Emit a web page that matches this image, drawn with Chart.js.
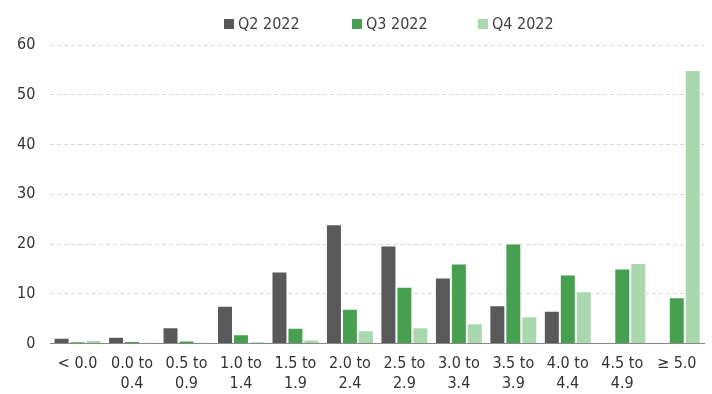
<!DOCTYPE html>
<html><head><meta charset="utf-8">
<script src="https://cdn.jsdelivr.net/npm/chart.js@4"></script>
<style>
html,body{margin:0;padding:0;background:#fff}
#w{position:relative;width:712px;height:394px}
.lg{position:absolute;top:13px;height:20px;display:flex;align-items:center;font-family:'Liberation Sans Narrow','DejaVu Sans Condensed','Liberation Sans',sans-serif;font-size:16px;color:#404040;white-space:nowrap}
.lg i{display:inline-block;width:10px;height:10px;margin-right:4px;margin-top:2px}
</style>
</head><body><div id="w"><canvas id="c"></canvas><div id="legend"></div></div>
<script>
const categories = [["< 0.0"],["0.0 to","0.4"],["0.5 to","0.9"],["1.0 to","1.4"],["1.5 to","1.9"],["2.0 to","2.4"],["2.5 to","2.9"],["3.0 to","3.4"],["3.5 to","3.9"],["4.0 to","4.4"],["4.5 to","4.9"],["≥ 5.0"]];
const seriesNames = ["Q2 2022","Q3 2022","Q4 2022"];
const q2 = [1.2,1.4,3.3,7.6,14.5,24.0,19.7,13.3,7.7,6.6,null,null];
const q3 = [0.4,0.5,0.6,1.9,3.2,7.0,11.4,16.1,20.1,13.9,15.1,9.3];
const q4 = [0.7,0.2,0.2,0.4,0.8,2.7,3.3,4.1,5.5,10.5,16.2,55.0];
const colors = ["#595959","#46a04f","#a9d8ae"];
const yTicks = [0,10,20,30,40,50,60];
const legendLeft = [224, 352, 478];
const FONT = "'Liberation Sans Narrow','DejaVu Sans Condensed','Liberation Sans',sans-serif";

const lg = document.getElementById('legend');
seriesNames.forEach((n,i)=>{
  const d = document.createElement('div');
  d.className = 'lg';
  d.style.left = legendLeft[i] + 'px';
  const sq = document.createElement('i');
  sq.style.background = colors[i];
  d.appendChild(sq);
  d.appendChild(document.createTextNode(n));
  lg.appendChild(d);
});

new Chart(document.getElementById('c'), {
  type: 'bar',
  data: {
    labels: categories,
    datasets: [q2,q3,q4].map((d,i)=>({label: seriesNames[i], data: d, backgroundColor: colors[i], borderColor: '#ffffff', borderWidth: 1}))
  },
  options: {
    responsive: true, maintainAspectRatio: false, animation: false,
    layout: {padding: {left: 2, right: 8, top: 45, bottom: -2}},
    datasets: {bar: {categoryPercentage: 0.88, barPercentage: 1.0}},
    plugins: {
      legend: {display: false},
      tooltip: {enabled: false}
    },
    scales: {
      x: {grid: {display: false}, border: {color: '#888', width: 1}, ticks: {color: '#333', padding: 3, font: {family: FONT, size: 16}, maxRotation: 0, autoSkip: false}},
      y: {min: 0, max: 60, afterBuildTicks: a => { a.ticks = yTicks.map(v=>({value:v})); },
          grid: {color: '#d9d9d9', drawTicks: false}, border: {display: false, dash: [4,3]},
          ticks: {color: '#333', padding: 15, font: {family: FONT, size: 16}}}
    }
  }
});
</script></body></html>
